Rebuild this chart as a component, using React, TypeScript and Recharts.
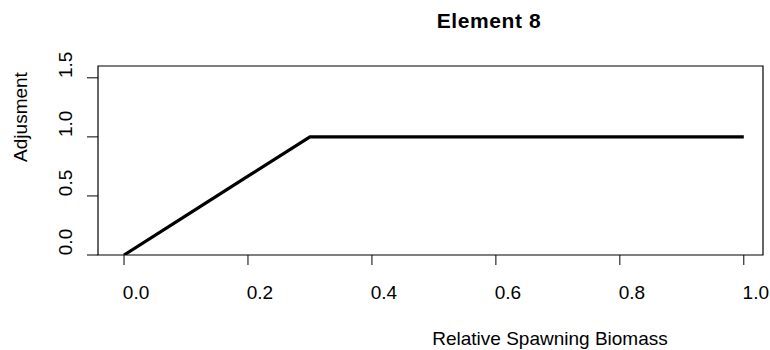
import { Line, LineChart, ReferenceArea, XAxis, YAxis } from "recharts";

const biomass = [0, 0.1, 0.2, 0.3, 1.0];
const adjustment = [0, 0.333, 0.667, 1.0, 1.0];
const xTicks = [0, 0.2, 0.4, 0.6, 0.8, 1.0];
const yTicks = [0, 0.5, 1.0, 1.5];

const FONT = "'Liberation Sans', Arial, sans-serif";
const X_DOMAIN: [number, number] = [-0.042, 1.031];
const Y_DOMAIN: [number, number] = [0, 1.6];

const data = biomass.map((x, i) => ({ x, y: adjustment[i] }));

function XTick({ x, payload }: any) {
  return (
    <text x={x + 12} y={292} textAnchor="middle" dominantBaseline="central" fontSize={19} fontFamily={FONT} fill="#000">
      {payload.value.toFixed(1)}
    </text>
  );
}

function YTick({ y, payload }: any) {
  const cy = y - 13;
  return (
    <text
      x={65}
      y={cy}
      transform={`rotate(-90 65 ${cy})`}
      textAnchor="middle"
      dominantBaseline="central"
      fontSize={19}
      fontFamily={FONT}
      fill="#000"
    >
      {payload.value.toFixed(1)}
    </text>
  );
}

export default function App() {
  return (
    <div style={{ position: "absolute", left: 0, top: 0, width: 770, height: 350, background: "#fff" }}>
      <LineChart width={770} height={350} data={data} margin={{ top: 66, right: 7, bottom: 0, left: 0 }}>
        <XAxis
          dataKey="x"
          type="number"
          domain={X_DOMAIN}
          ticks={xTicks}
          allowDataOverflow
          axisLine={false}
          tickLine={{ stroke: "#000" }}
          tickSize={10}
          height={95}
          tick={<XTick />}
        />
        <YAxis
          type="number"
          domain={Y_DOMAIN}
          ticks={yTicks}
          allowDataOverflow
          axisLine={false}
          tickLine={{ stroke: "#000" }}
          tickSize={11}
          width={98}
          tick={<YTick />}
        />
        <ReferenceArea
          x1={X_DOMAIN[0]}
          x2={X_DOMAIN[1]}
          y1={Y_DOMAIN[0]}
          y2={Y_DOMAIN[1]}
          fill="none"
          stroke="#000"
          strokeWidth={1.2}
          ifOverflow="visible"
        />
        <Line
          type="linear"
          dataKey="y"
          stroke="#000"
          strokeWidth={3.2}
          dot={false}
          activeDot={false}
          isAnimationActive={false}
        />
        <text x={489} y={20} textAnchor="middle" dominantBaseline="central" fontSize={21} fontWeight="bold" fontFamily={FONT} letterSpacing={0.6}>
          Element 8
        </text>
        <text x={550} y={338} textAnchor="middle" dominantBaseline="central" fontSize={19} fontFamily={FONT}>
          Relative Spawning Biomass
        </text>
        <text x={20} y={117} transform="rotate(-90 20 117)" textAnchor="middle" dominantBaseline="central" fontSize={19} fontFamily={FONT}>
          Adjusment
        </text>
      </LineChart>
    </div>
  );
}
